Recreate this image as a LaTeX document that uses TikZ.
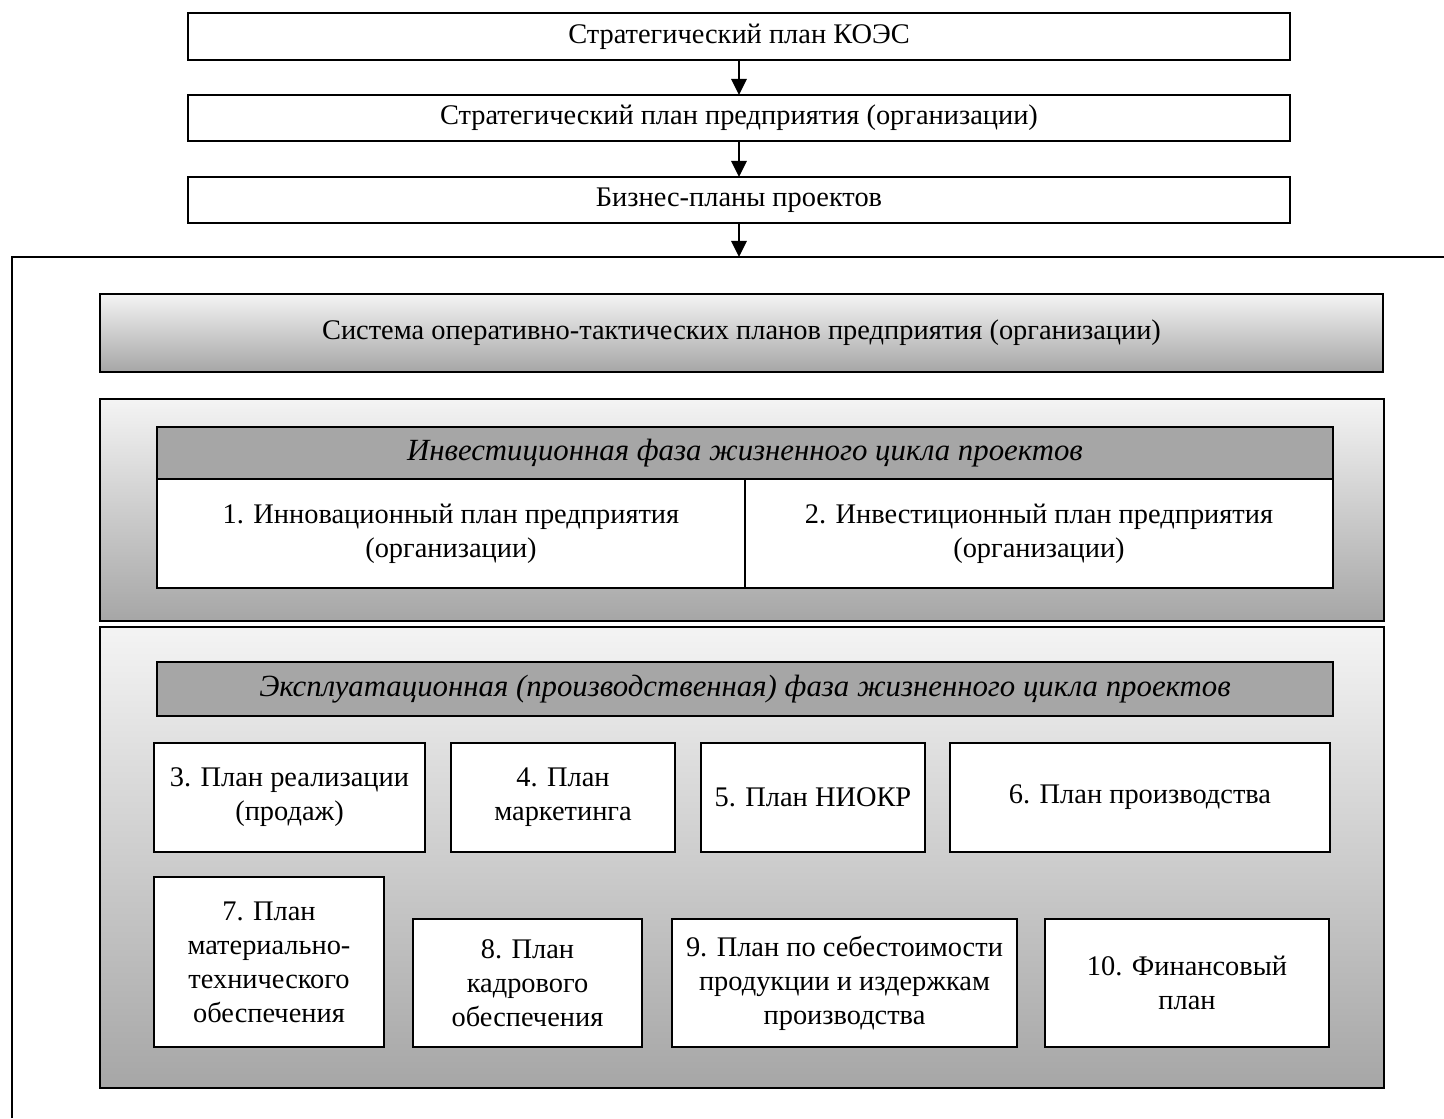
\documentclass[tikz,border=0pt]{standalone}
\usepackage{fontspec}
\setmainfont{Liberation Serif}
\usetikzlibrary{arrows.meta}
\definecolor{hdr}{HTML}{A6A6A6}
\definecolor{lite}{HTML}{F4F4F4}
\definecolor{dark}{HTML}{A6A6A6}
\tikzset{
  plain box/.style={draw, line width=1.4pt, fill=white, outer sep=0pt, inner sep=2pt, align=center,
     font=\fontsize{14.2}{17}\selectfont},
  grad box/.style={plain box, top color=lite, bottom color=dark},
  head box/.style={plain box, fill=hdr, font=\fontsize{15.4}{17}\selectfont\itshape},
  flow/.style={line width=1.4pt, -{Triangle[width=7.5pt,length=8pt]}},
  frame/.style={line width=1.4pt}
}
\begin{document}
\begin{tikzpicture}[x=0.5pt, y=-0.5pt]
\useasboundingbox (0,0) rectangle (1444,1118);
% top chain
\node[plain box, minimum width=551pt, minimum height=23.5pt] (koes) at (739,36.5) {Стратегический план КОЭС};
\node[plain box, minimum width=551pt, minimum height=23pt] (pred) at (739,118) {Стратегический план предприятия (организации)};
\node[plain box, minimum width=551pt, minimum height=23pt] (biz) at (739,200) {Бизнес-планы проектов};
\coordinate (ftop) at (739,257);
\draw[flow] (koes) -- (pred);
\draw[flow] (pred) -- (biz);
\draw[flow] (biz) -- (ftop);
% outer frame (open)
\coordinate (fl) at (12,1118);
\coordinate (fc) at (12,257);
\coordinate (fr) at (1444,257);
\draw[frame] (fl) -- (fc) -- (fr);
% system box
\node[grad box, minimum width=641.5pt, minimum height=39pt] (sys) at (741.5,333) {Система оперативно-тактических планов предприятия (организации)};
% investment panel
\node[grad box, minimum width=642pt, minimum height=111pt] (inv) at (742,510) {};
\node[head box, minimum width=588pt, minimum height=26pt] (invh) at (745,453) {Инвестиционная фаза жизненного цикла проектов};
\node[plain box, minimum width=294pt, minimum height=54.5pt] (p1) at (451,533.5) {1. Инновационный план предприятия\\(организации)};
\node[plain box, minimum width=294pt, minimum height=54.5pt] (p2) at (1039,533.5) {2. Инвестиционный план предприятия\\(организации)};
% exploitation panel
\node[grad box, minimum width=642pt, minimum height=230.5pt] (exp) at (742,857.5) {};
\node[head box, minimum width=588pt, minimum height=27pt] (exph) at (745,689) {Эксплуатационная (производственная) фаза жизненного цикла проектов};
\node[plain box, minimum width=135.5pt, minimum height=54.5pt] (p3) at (289.5,797.5) {3. План реализации\\(продаж)};
\node[plain box, minimum width=112pt, minimum height=54.5pt] (p4) at (563,797.5) {4. План\\маркетинга};
\node[plain box, minimum width=112pt, minimum height=54.5pt] (p5) at (813,797.5) {5. План НИОКР};
\node[plain box, minimum width=190pt, minimum height=54.5pt] (p6) at (1140,797.5) {6. План производства};
\node[plain box, minimum width=115pt, minimum height=85pt] (p7) at (269,962) {7. План\\материально-\\технического\\обеспечения};
\node[plain box, minimum width=114.5pt, minimum height=64pt] (p8) at (527.5,983) {8. План\\кадрового\\обеспечения};
\node[plain box, minimum width=172.5pt, minimum height=64pt] (p9) at (844.5,983) {9. План по себестоимости\\продукции и издержкам\\производства};
\node[plain box, minimum width=142pt, minimum height=64pt] (p10) at (1187,983) {10. Финансовый\\план};
\end{tikzpicture}
\end{document}
